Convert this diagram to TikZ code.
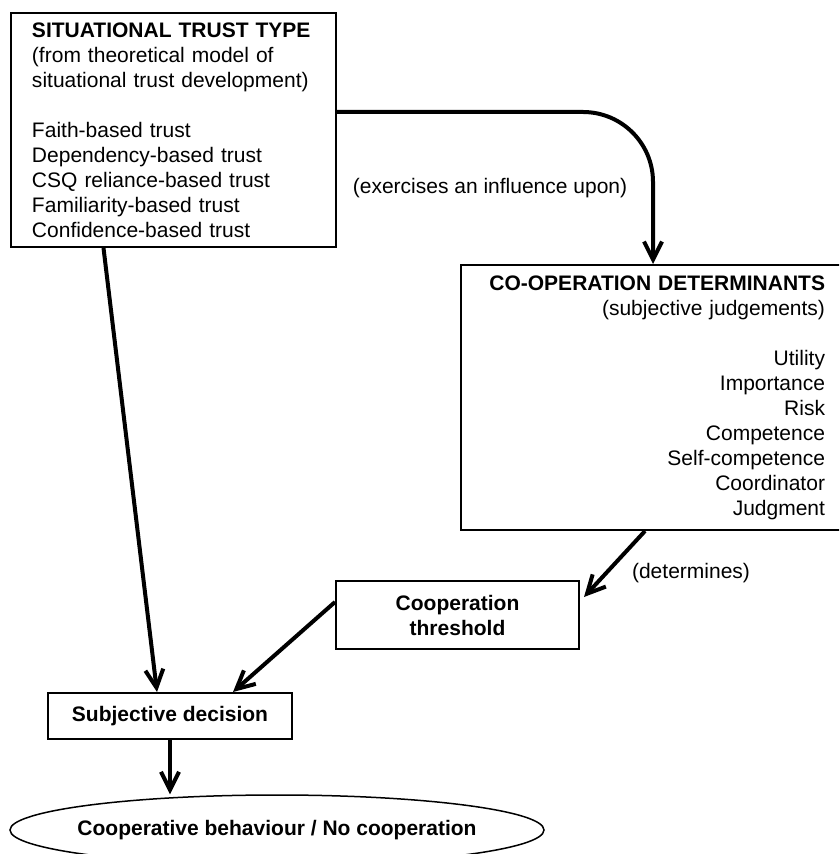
\documentclass[tikz,border=0pt]{standalone}
\usepackage{fontspec}
\setmainfont{Liberation Sans}
\usetikzlibrary{arrows.meta,shapes.geometric}

\begin{document}
\begin{tikzpicture}[x=0.5pt,y=-0.5pt,
	every node/.style={font=\fontsize{10.5}{12.5}\selectfont},
	box/.style={draw,line width=1pt,inner sep=0pt},
	boldbox/.style={box,font=\fontsize{10.5}{12.5}\selectfont\bfseries,align=center},
	flow/.style={line width=2pt,-{Straight Barb[length=9pt,width=9pt]}}]
	\clip (0,0) rectangle (839,854);
	% boxes
	\node[box,minimum width=162.5pt,minimum height=117pt,text width=141.5pt,align=left] (trust) at (173.5,130) {%
		\textbf{SITUATIONAL TRUST TYPE}\\
		(from theoretical model of\\
		situational trust development)\\[12.5pt]
		Faith-based trust\\
		Dependency-based trust\\
		CSQ reliance-based trust\\
		Familiarity-based trust\\
		Confidence-based trust};
	\node[box,minimum width=192pt,minimum height=132.5pt,text width=172pt,align=right] (determ) at (653,397.5) {%
		\textbf{CO-OPERATION DETERMINANTS}\\
		(subjective judgements)\\[12.5pt]
		Utility\\
		Importance\\
		Risk\\
		Competence\\
		Self-competence\\
		Coordinator\\
		Judgment};
	\node[boldbox,minimum width=121.5pt,minimum height=34pt] (thresh) at (457.5,615) {Cooperation\\threshold};
	\node[boldbox,minimum width=122pt,minimum height=23pt] (decision) at (170,716) {Subjective decision};
	\node[ellipse,draw,line width=0.75pt,inner xsep=-10pt,inner ysep=0pt,minimum width=267pt,minimum height=35pt,
		font=\fontsize{10.5}{12.5}\selectfont\bfseries] (outcome) at (277,830) {Cooperative behaviour / No cooperation};
	% labels
	\node (influence) at (490,188) {(exercises an influence upon)};
	\node (determines) at (691,573) {(determines)};
	% arrows
	\draw[flow,rounded corners=35pt] ([yshift=9pt]trust.east) -| (determ.north);
	\draw[flow] ([xshift=-35pt]trust.south) -- ([xshift=-6.5pt]decision.north);
	\draw[flow] ([xshift=-4pt]determ.south) -- ([xshift=2pt,yshift=9pt]thresh.east);
	\draw[flow] ([yshift=6.5pt]thresh.west) -- ([xshift=31.5pt]decision.north);
	\draw[flow] (decision.south) -- (decision.south |- outcome.north);
\end{tikzpicture}
\end{document}
